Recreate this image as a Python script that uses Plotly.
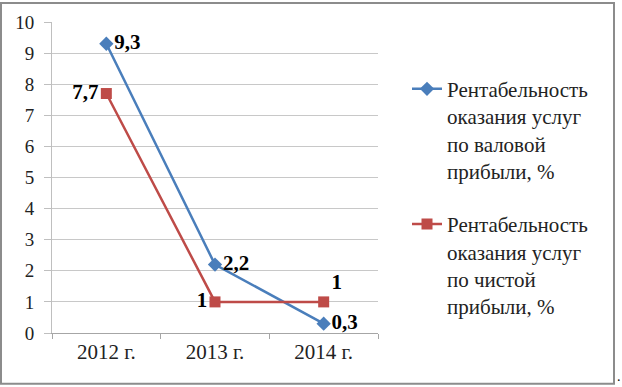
import plotly.graph_objects as go

categories = ["2012 г.", "2013 г.", "2014 г."]
gross = [9.3, 2.2, 0.3]
net = [7.7, 1.0, 1.0]
gross_labels = ["9,3", "2,2", "0,3"]
net_labels = ["7,7", "1", "1"]
name_gross = "Рентабельность<br>оказания услуг<br>по валовой<br>прибыли, %"
name_net = "Рентабельность<br>оказания услуг<br>по чистой<br>прибыли, %"

FONT = "Liberation Serif"
BLUE = "#4A7EBB"
RED = "#BE4B48"

fig = go.Figure()
fig.add_trace(go.Scatter(
    x=categories, y=gross, name=name_gross, legendgroup="g1", mode="lines+markers+text",
    line=dict(color=BLUE, width=2.5),
    marker=dict(symbol="diamond", size=11, color=BLUE),
    text=gross_labels, textposition="middle right",
    textfont=dict(family=FONT, size=21, color="#000000", weight="bold"),
))
fig.add_trace(go.Scatter(
    x=categories, y=net, name=name_net, legendgroup="g2", mode="lines+markers+text",
    line=dict(color=RED, width=2.5),
    marker=dict(symbol="square", size=11, color=RED),
    text=net_labels, textposition=["middle left", "middle left", "top right"],
    textfont=dict(family=FONT, size=21, color="#000000", weight="bold"),
))

L, R, T, B = 52, 244, 20, 54
pw = 622 - L - R
ph = 387 - T - B

fig.update_layout(
    width=622, height=387,
    margin=dict(l=L, r=R, t=T, b=B),
    paper_bgcolor="white", plot_bgcolor="white",
    font=dict(family=FONT, size=18, color="#222222"),
    showlegend=True,
    legend=dict(
        x=(407 - L) / pw, y=(333 - 67) / ph, xanchor="left", yanchor="top",
        font=dict(family=FONT, size=21, color="#222222"),
        tracegroupgap=23, valign="top", itemwidth=30,
        bgcolor="rgba(0,0,0,0)",
    ),
    xaxis=dict(
        type="category", showgrid=False, showline=True, linecolor="#A6A6A6",
        linewidth=1, ticks="outside", tickson="boundaries", ticklen=5,
        tickcolor="#A6A6A6", tickfont=dict(family=FONT, size=21, color="#222222"),
        range=[-0.5, 2.5],
    ),
    yaxis=dict(
        range=[0, 10], dtick=1, showgrid=True, gridcolor="#C8C8C8", gridwidth=1,
        showline=True, linecolor="#BFBFBF", ticks="outside", ticklen=7,
        tickcolor="#BFBFBF", tickfont=dict(family=FONT, size=19, color="#222222"),
        ticklabelstandoff=6, zeroline=False,
    ),
    shapes=[dict(
        type="rect", xref="paper", yref="paper",
        x0=(1 - L) / pw, x1=(614 - L) / pw,
        y0=-(384 - (387 - B)) / ph, y1=((387 - B) - 1) / ph,
        line=dict(color="#8C8C8C", width=2), fillcolor="rgba(0,0,0,0)", layer="below",
    )],
    annotations=[dict(
        text=".", xref="paper", yref="paper", x=(619 - L) / pw, y=-(386 - (387 - B)) / ph,
        showarrow=False, font=dict(size=14, color="#000000"), xanchor="center", yanchor="bottom",
    )],
)

fig.write_html("out.html", config={"displayModeBar": False},
               post_script="document.body.style.margin='0';document.body.style.overflow='hidden';")
